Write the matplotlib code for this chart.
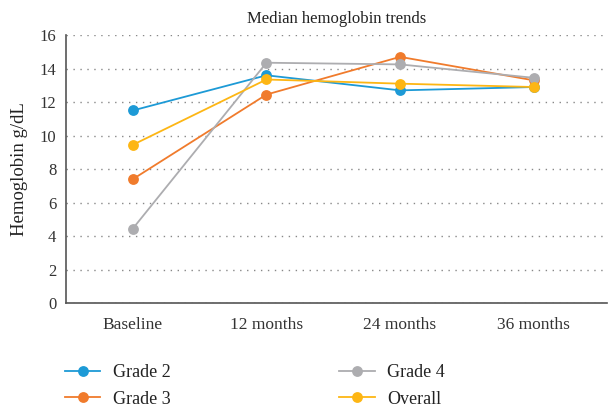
import matplotlib
matplotlib.use("Agg")
import matplotlib.pyplot as plt

categories = ["Baseline", "12 months", "24 months", "36 months"]
grade2 = [11.5, 13.6, 12.7, 12.9]
grade3 = [7.4, 12.45, 14.7, 13.3]
grade4 = [4.45, 14.35, 14.25, 13.45]
overall = [9.45, 13.35, 13.1, 12.9]
yticks = [0, 2, 4, 6, 8, 10, 12, 14, 16]

series = [
    ("Grade 2", grade2, "#1d9ad6"),
    ("Grade 3", grade3, "#f07b2c"),
    ("Grade 4", grade4, "#adadb0"),
    ("Overall", overall, "#fdb614"),
]

plt.rcParams['font.family'] = ['Liberation Serif', 'DejaVu Serif']

fig = plt.figure(figsize=(6.08, 4.08), dpi=100)
ax = fig.add_axes([0.1086, 0.257, 0.89, 0.657])

x = list(range(len(categories)))
handles = {}
for name, vals, col in series:
    h, = ax.plot(x, vals, color=col, lw=1.3, marker='o', markersize=7.8,
                 markeredgewidth=0, label=name)
    handles[name] = h

ax.set_xlim(-0.5, 3.55)
ax.set_ylim(0, 16)
ax.set_yticks(yticks)
ax.set_xticks(x)
ax.set_xticklabels(categories)
ax.tick_params(axis='y', length=0, labelsize=12, colors='#333333', pad=7)
ax.tick_params(axis='x', length=0, labelsize=12.5, colors='#333333', pad=10)
ax.yaxis.grid(True, linestyle=(0, (1, 4)), color='#888888', lw=1)
ax.set_axisbelow(True)
for s in ['top', 'right']:
    ax.spines[s].set_visible(False)
for s in ['left', 'bottom']:
    ax.spines[s].set_color('#555555')
    ax.spines[s].set_linewidth(1.2)
ax.set_ylabel("Hemoglobin g/dL", fontsize=13.5, color='#222222', labelpad=8)
ax.set_title("Median hemoglobin trends", fontsize=12, color='#222222', pad=9)

order = ["Grade 2", "Grade 3", "Grade 4", "Overall"]
leg = fig.legend([handles[n] for n in order], order, ncol=2, loc='upper left',
                 bbox_to_anchor=(0.107, 0.108), frameon=False, fontsize=13,
                 handlelength=1.95, columnspacing=9.35, labelspacing=0.53,
                 handletextpad=0.7, borderpad=0, borderaxespad=0)
for t in leg.get_texts():
    t.set_color('#222222')

fig.savefig("out.png", dpi=100)
